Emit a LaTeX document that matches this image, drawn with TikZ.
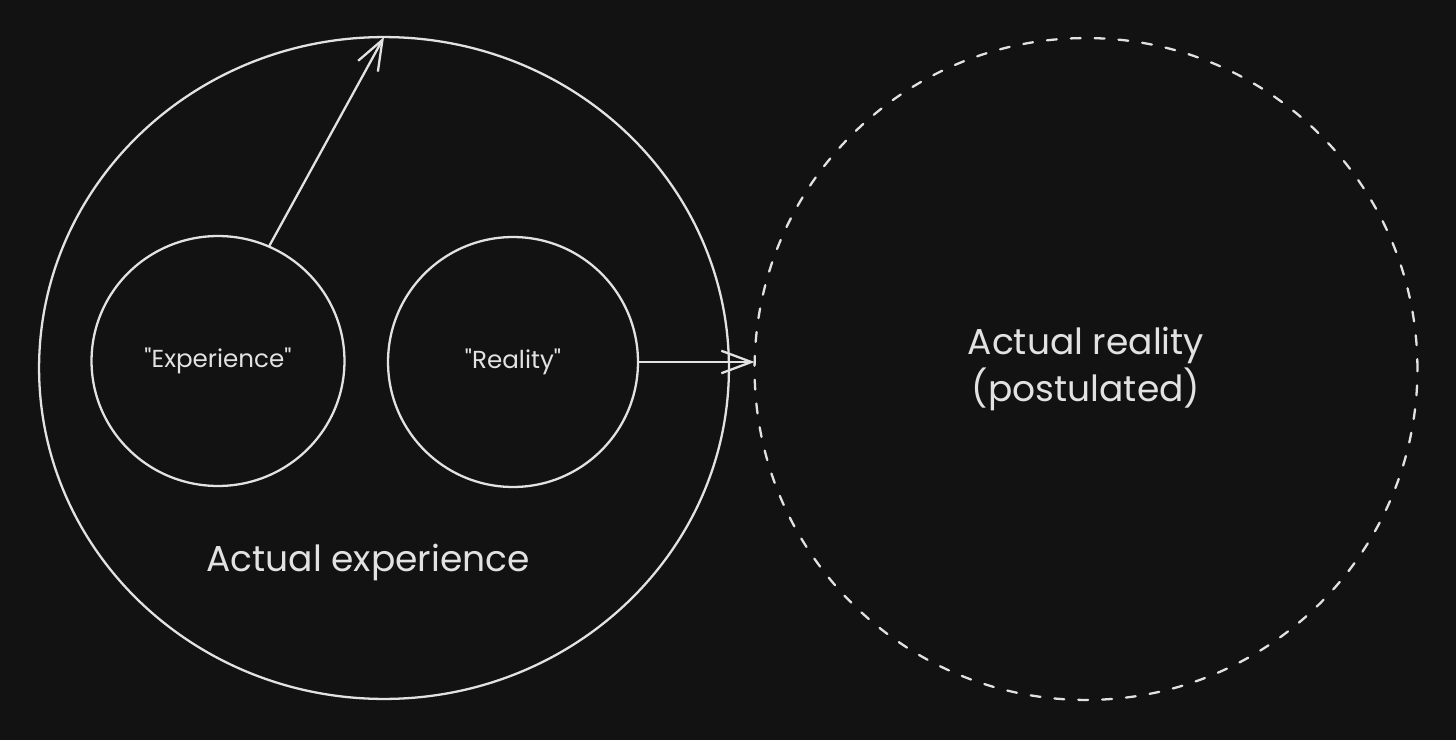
\documentclass[tikz,border=0pt]{standalone}
\usepackage{fontspec}
\newfontfamily\kezi{Poppins}
\usetikzlibrary{arrows.meta,positioning,shapes.geometric}
\definecolor{hatter}{RGB}{18,18,18}
\definecolor{tinta}{RGB}{226,226,226}
\tikzset{
  kor/.style={draw=tinta,ellipse,line width=1.3pt,inner sep=0pt,outer sep=0pt,text=tinta},
  szkor/.style={kor,dash pattern=on 5.6pt off 8pt,line cap=round},
  nyil/.style={-{Straight Barb[length=6mm,width=4.5mm]},draw=tinta,line width=1.3pt},
  cimke/.style={text=tinta,font=\kezi\fontsize{14}{16}\selectfont},
  nagycimke/.style={text=tinta,font=\kezi\fontsize{20.5}{26.6}\selectfont,align=center},
}

\begin{document}
\begin{tikzpicture}[x=0.02cm,y=-0.02cm]
  \fill[hatter] (0,0) rectangle (1456,740);
  \useasboundingbox (0,0) rectangle (1456,740);
  % a tapasztalat
  \node[kor,minimum width=13.8cm,minimum height=13.24cm] (nagy) at (384,368) {};
  \node[kor,cimke,minimum width=5.06cm,minimum height=5cm] (tap) at (218,361) {"Experience"};
  \node[kor,cimke,minimum width=5cm,minimum height=5cm] (val) at (513,362) {"Reality"};
  \node[nagycimke] (tapcimke) at (368,562) {Actual experience};
  % a posztulalt valosag
  \node[szkor,nagycimke,minimum width=13.26cm,minimum height=13.24cm] (post) at (1086,369)
    {Actual reality\\(postulated)};
  \draw[nyil] (tap.66) -- (nagy.north);
  \draw[nyil] (val.east) -- (val.east -| post.west);
\end{tikzpicture}
\end{document}
